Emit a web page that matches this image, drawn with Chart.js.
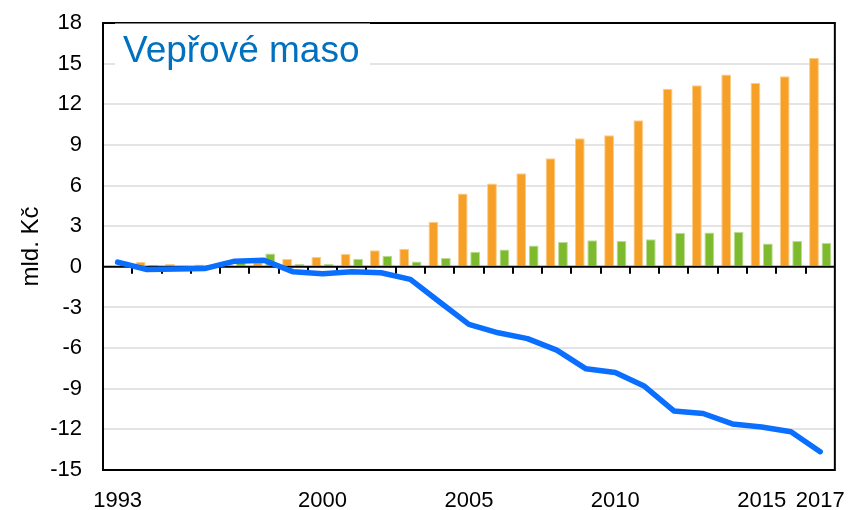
<!DOCTYPE html>
<html lang="cs">
<head>
<meta charset="utf-8">
<title>Vepřové maso</title>
<script src="https://cdn.jsdelivr.net/npm/chart.js@4.4.1/dist/chart.umd.min.js"></script>
<style>
  html, body { margin: 0; padding: 0; background: #fff; }
  #wrap { position: relative; width: 863px; height: 510px; }
</style>
</head>
<body>
<div id="wrap"><canvas id="chart"></canvas></div>
<script>
const years = [];
for (let y = 1993; y <= 2017; y++) {
    years.push(String(y));
}
const shownYears = ['1993', '2000', '2005', '2010', '2015', '2017'];

// mld. Kč
const dovoz = [0.05, 0.37, 0.20, 0.18, 0.15, 0.50, 0.57, 0.72, 0.94, 1.23, 1.33, 3.32, 5.41, 6.15, 6.91, 8.02, 9.49, 9.71, 10.82, 13.15, 13.40, 14.19, 13.57, 14.06, 15.41];
const vyvoz = [0.40, 0.15, 0.03, 0.06, 0.57, 0.99, 0.20, 0.20, 0.59, 0.81, 0.40, 0.66, 1.11, 1.28, 1.58, 1.84, 1.97, 1.90, 2.04, 2.51, 2.53, 2.58, 1.73, 1.90, 1.75];
const saldo = [0.35, -0.20, -0.17, -0.12, 0.42, 0.49, -0.37, -0.52, -0.37, -0.44, -0.93, -2.60, -4.25, -4.87, -5.30, -6.15, -7.53, -7.80, -8.82, -10.64, -10.83, -11.60, -11.82, -12.18, -13.65];

const FONT = '"Liberation Sans", Arial, sans-serif';

// zero axis with ticks, plot frame and the boxed title
const frame = {
    id: 'frame',
    beforeDatasetDraw(chart, args) {
        if (args.meta.type !== 'line') return;
        const { ctx, chartArea: a, scales: { x, y } } = chart;
        const y0 = y.getPixelForValue(0);
        ctx.save();
        ctx.strokeStyle = '#000';
        ctx.lineWidth = 2;
        ctx.beginPath();
        ctx.moveTo(a.left, y0);
        ctx.lineTo(a.right, y0);
        for (let i = 1; i < years.length; i++) {
            const xb = Math.round((x.getPixelForValue(i - 1) + x.getPixelForValue(i)) / 2);
            ctx.moveTo(xb, y0);
            ctx.lineTo(xb, y0 + 7);
        }
        ctx.stroke();
        ctx.restore();
    },
    afterDraw(chart) {
        const { ctx, chartArea: a } = chart;
        ctx.save();
        ctx.strokeStyle = '#000';
        ctx.lineWidth = 2;
        ctx.strokeRect(a.left, a.top, a.right - a.left, a.bottom - a.top);
        ctx.fillStyle = '#fff';
        ctx.fillRect(a.left + 12, a.top + 0.5, 255, 44);
        ctx.fillStyle = '#0070C0';
        ctx.font = '37px ' + FONT;
        ctx.textBaseline = 'alphabetic';
        ctx.fillText('Vepřové maso', a.left + 20, a.top + 39);
        ctx.restore();
    },
};

new Chart(document.getElementById('chart'), {
    type: 'bar',
    data: {
        labels: years,
        datasets: [
            {
                type: 'line',
                label: 'Saldo',
                data: saldo,
                borderColor: '#0A6EFF',
                borderWidth: 5.5,
                borderCapStyle: 'round',
                borderJoinStyle: 'round',
                pointRadius: 0,
                tension: 0,
                order: 0,
            },
            {
                label: 'Dovoz',
                data: dovoz,
                backgroundColor: '#F7A028',
                borderColor: '#FBCD8A',
                borderWidth: { top: 1, left: 1, right: 1, bottom: 0 },
                categoryPercentage: 0.85,
                barPercentage: 0.79,
                order: 1,
            },
            {
                label: 'Vývoz',
                data: vyvoz,
                backgroundColor: '#7DBA2D',
                borderColor: '#BCDD95',
                borderWidth: { top: 1, left: 1, right: 1, bottom: 0 },
                categoryPercentage: 0.85,
                barPercentage: 0.79,
                order: 1,
            },
        ],
    },
    options: {
        responsive: true,
        maintainAspectRatio: false,
        animation: false,
        layout: {
            padding: { top: 23, right: 16, bottom: 0, left: 0 },
        },
        plugins: {
            legend: { display: false },
            tooltip: { enabled: false },
        },
        scales: {
            x: {
                offset: true,
                grid: { display: false, drawTicks: false },
                border: { display: true, color: '#000', width: 2 },
                ticks: {
                    autoSkip: false,
                    maxRotation: 0,
                    padding: 18,
                    color: '#000',
                    font: { family: FONT, size: 22 },
                    callback: function (value) {
                        const lab = this.getLabelForValue(value);
                        return shownYears.includes(lab) ? lab : '';
                    },
                },
                afterFit: (s) => { s.height = 40; },
            },
            y: {
                min: -15,
                max: 18,
                ticks: {
                    stepSize: 3,
                    padding: 21,
                    color: '#000',
                    font: { family: FONT, size: 22 },
                },
                grid: {
                    drawTicks: false,
                    lineWidth: 2,
                    color: (c) => (c.tick && c.tick.value === 0 ? 'rgba(0,0,0,0)' : '#E4E4E4'),
                },
                border: { display: true, color: '#000', width: 2 },
                title: {
                    display: true,
                    text: 'mld. Kč',
                    color: '#000',
                    font: { family: FONT, size: 24 },
                    padding: { top: 17, bottom: 0 },
                },
                afterFit: (s) => {
                    s.width = 103;
                    s.paddingTop = 0;
                    s.paddingBottom = 0;
                },
            },
        },
    },
    plugins: [frame],
});
</script>
</body>
</html>
